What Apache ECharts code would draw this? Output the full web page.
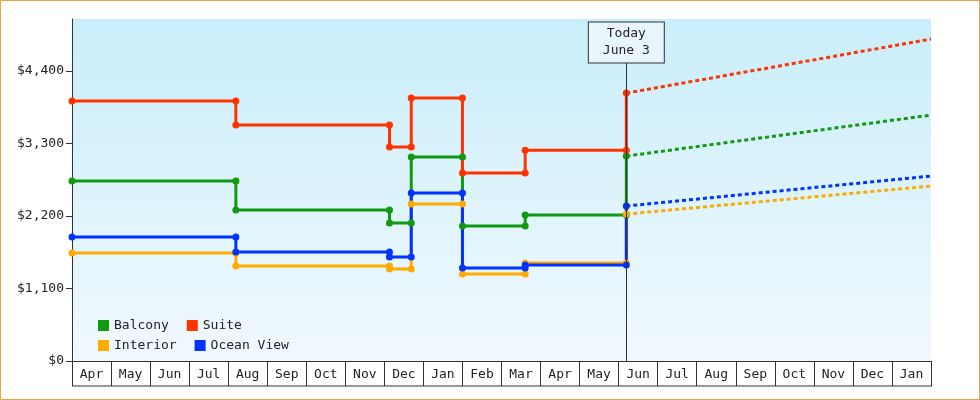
<!DOCTYPE html>
<html>
<head>
<meta charset="utf-8">
<script src="https://cdn.jsdelivr.net/npm/echarts@6/dist/echarts.min.js"></script>
<style>body{margin:0}#main{width:978px;height:398px;border:1px solid #f0a040}</style>
</head>
<body>
<div id="main"></div>
<script>
// month labels, Apr 2016 .. Jan 2018
var months = ['Apr','May','Jun','Jul','Aug','Sep','Oct','Nov','Dec','Jan','Feb','Mar','Apr','May','Jun','Jul','Aug','Sep','Oct','Nov','Dec','Jan'];
var totalDays = 671;   // Apr 1 -> Feb 1 (22 months)
var todayDay = 433;    // June 3

// price history: [day, price], pairs at the same day mark a price change
var balcony = [[0,2731],[128,2731],[128,2290],[248,2290],[248,2094],[265,2094],[265,3095],[305,3095],[305,2048],[354,2048],[354,2215],[433,2215],[433,3110]];
var suite = [[0,3945],[128,3945],[128,3580],[248,3580],[248,3246],[265,3246],[265,3990],[305,3990],[305,2852],[354,2852],[354,3200],[433,3200],[433,4066]];
var interior = [[0,1638],[128,1638],[128,1441],[248,1441],[248,1396],[265,1396],[265,2382],[305,2382],[305,1320],[354,1320],[354,1487],[433,1487],[433,2230]];
var oceanView = [[0,1881],[128,1881],[128,1654],[248,1654],[248,1578],[265,1578],[265,2549],[305,2549],[305,1411],[354,1411],[354,1456],[433,1456],[433,2352]];

// forecasts from today to end of range
var balconyFc = [[433,3110],[671,3732]];
var suiteFc = [[433,4066],[671,4885]];
var interiorFc = [[433,2230],[671,2655]];
var oceanFc = [[433,2352],[671,2807]];

var colors = {Balcony:'#119911', Suite:'#ff3300', Interior:'#ffaa00', 'Ocean View':'#0033ff'};
var font = 'DejaVu Sans Mono';

function hist(name, data) {
  return {name:name, type:'line', xAxisIndex:1, data:data, color:colors[name],
    symbol:'circle', symbolSize:7, lineStyle:{width:3}, animation:false};
}
function fc(name, data) {
  return {name:name, type:'line', xAxisIndex:1, data:data, color:colors[name],
    symbol:'none', lineStyle:{width:3, type:[4,3]}, animation:false};
}

var chart = echarts.init(document.getElementById('main'));
var series = [
  hist('Balcony', balcony), hist('Suite', suite), hist('Interior', interior), hist('Ocean View', oceanView),
  fc('Balcony', balconyFc), fc('Suite', suiteFc), fc('Interior', interiorFc), fc('Ocean View', oceanFc)
];
series[0].markLine = {
  symbol:'none', silent:true, animation:false,
  lineStyle:{color:'#333', width:1, type:'solid'},
  label:{show:true, position:'end', distance:0, formatter:'Today\nJune 3', fontFamily:font, fontSize:13, color:'#222',
    backgroundColor:'#e8f6fb', borderColor:'#333', borderWidth:1, padding:[3,14], lineHeight:17},
  data:[[{coord:[todayDay,0]},{coord:[todayDay,4530]}]]
};

var legendCommon = {itemWidth:11, itemHeight:11, icon:'rect', itemGap:18,
  textStyle:{fontFamily:font, fontSize:13, color:'#222'}};

chart.setOption({
  textStyle:{fontFamily:font},
  grid:{left:71, right:48, top:18, bottom:38,
    show:true, borderWidth:0,
    backgroundColor:new echarts.graphic.LinearGradient(0,0,0,1,[{offset:0,color:'#c9eefb'},{offset:1,color:'#f1f9fd'}])},
  legend:[
    Object.assign({left:92, top:313, data:['Balcony','Suite']}, legendCommon),
    Object.assign({left:92, top:333, data:['Interior','Ocean View']}, legendCommon)
  ],
  xAxis:[
    {type:'category', data:months, position:'bottom',
      axisLine:{lineStyle:{color:'#333'}},
      axisTick:{show:true, inside:false, length:25, lineStyle:{color:'#333', width:1}},
      axisLabel:{fontFamily:font, fontSize:13, color:'#222', margin:7}},
    {type:'value', min:0, max:totalDays, show:false}
  ],
  yAxis:{type:'value', min:0, max:5190, interval:1100,
    axisLine:{show:true, lineStyle:{color:'#333'}},
    axisTick:{show:true, length:6, lineStyle:{color:'#333'}},
    splitLine:{show:false},
    axisLabel:{fontFamily:font, fontSize:13, color:'#222', showMaxLabel:false,
      formatter:function(v){return '$'+v.toLocaleString('en-US');}}},
  graphic:[{type:'line', silent:true, shape:{x1:71, y1:385, x2:931, y2:385}, style:{stroke:'#333', lineWidth:1}}],
  series:series
});
</script>
</body>
</html>
